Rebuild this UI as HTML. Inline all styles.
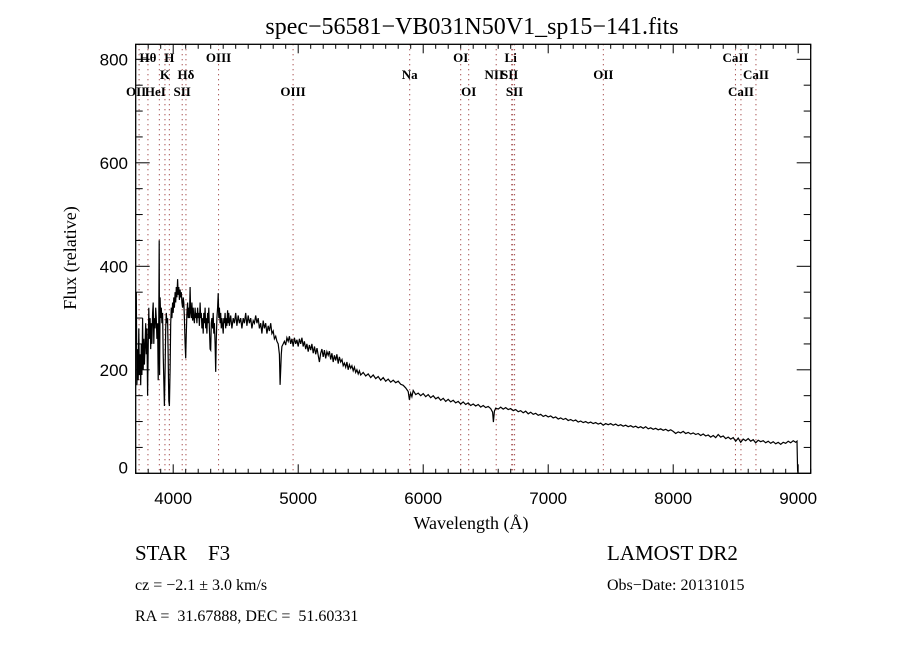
<!DOCTYPE html>
<html><head><meta charset="utf-8"><style>
html,body{margin:0;padding:0;background:#fff;}
svg{display:block;}
text{font-family:"Liberation Serif",serif;fill:#000;white-space:pre;}
</style></head>
<body>
<svg id="chart" width="900" height="650" viewBox="0 0 900 650" xmlns="http://www.w3.org/2000/svg">
<rect width="900" height="650" fill="#fff"/>
<text x="472" y="34" font-size="24" text-anchor="middle">spec−56581−VB031N50V1_sp15−141.fits</text>
<g id="lines"></g>
<g id="axes"></g>
<path id="spec" fill="none" stroke="#000" stroke-width="1.2"/>
<text x="471" y="529" font-size="18" text-anchor="middle">Wavelength (Å)</text>
<text transform="translate(76,258) rotate(-90)" font-size="18" text-anchor="middle">Flux (relative)</text>
<text x="135" y="560" font-size="21" xml:space="preserve">STAR    F3</text>
<text x="607" y="560" font-size="21">LAMOST DR2</text>
<text x="135" y="590" font-size="16">cz = −2.1 ± 3.0 km/s</text>
<text x="607" y="590" font-size="16">Obs−Date: 20131015</text>
<text x="135" y="621" font-size="16" xml:space="preserve">RA =  31.67888, DEC =  51.60331</text>
</svg>
<script>
const wave = [3705,3710,3715,3720,3725,3730,3735,3740,3745,3750,3755,3760,3765,3770,3775,3780,3785,3790,3795,3800,3805,3810,3815,3820,3825,3830,3835,3840,3845,3850,3855,3860,3865,3870,3875,3880,3885,3888,3891,3895,3900,3905,3910,3915,3920,3925,3930,3935,3940,3945,3950,3955,3960,3965,3970,3975,3980,3985,3990,3995,4000,4005,4010,4015,4020,4025,4030,4035,4040,4045,4050,4055,4060,4065,4070,4075,4080,4085,4090,4095,4100,4105,4110,4115,4120,4125,4130,4135,4140,4145,4150,4155,4160,4165,4170,4175,4180,4185,4190,4195,4200,4205,4210,4215,4220,4225,4230,4235,4240,4245,4250,4255,4260,4265,4270,4275,4280,4285,4290,4295,4300,4305,4310,4315,4320,4325,4330,4335,4340,4345,4350,4355,4360,4365,4370,4375,4380,4385,4390,4395,4400,4405,4410,4415,4420,4425,4430,4435,4440,4445,4450,4460,4470,4480,4490,4500,4510,4520,4530,4540,4550,4560,4570,4580,4590,4600,4610,4620,4630,4640,4650,4660,4670,4680,4690,4700,4710,4720,4730,4740,4750,4760,4770,4780,4790,4800,4810,4820,4830,4840,4850,4855,4860,4865,4870,4880,4890,4900,4910,4920,4930,4940,4950,4960,4970,4980,4990,5000,5010,5020,5030,5040,5050,5060,5070,5080,5090,5100,5110,5120,5130,5140,5150,5160,5170,5180,5190,5200,5210,5220,5230,5240,5250,5260,5270,5280,5290,5300,5310,5320,5330,5340,5350,5360,5370,5380,5390,5400,5410,5420,5430,5440,5450,5460,5470,5480,5490,5500,5520,5540,5560,5580,5600,5620,5640,5660,5680,5700,5720,5740,5760,5780,5800,5820,5840,5860,5880,5890,5900,5910,5920,5940,5960,5980,6000,6020,6040,6060,6080,6100,6120,6140,6160,6180,6200,6220,6240,6260,6280,6300,6320,6340,6360,6380,6400,6420,6440,6460,6480,6500,6520,6540,6555,6562,6570,6580,6600,6620,6640,6660,6680,6700,6720,6740,6760,6780,6800,6820,6840,6860,6880,6900,6920,6940,6960,6980,7000,7020,7040,7060,7080,7100,7120,7140,7160,7180,7200,7220,7240,7260,7280,7300,7320,7340,7360,7380,7400,7420,7440,7460,7480,7500,7520,7540,7560,7580,7600,7620,7640,7660,7680,7700,7720,7740,7760,7780,7800,7820,7840,7860,7880,7900,7920,7940,7960,7980,8000,8020,8040,8060,8080,8100,8120,8140,8160,8180,8200,8220,8240,8260,8280,8300,8320,8340,8360,8380,8400,8420,8440,8460,8480,8500,8520,8540,8560,8580,8600,8620,8640,8660,8680,8700,8720,8740,8760,8780,8800,8820,8840,8860,8880,8900,8920,8940,8960,8980,8990,8995];
const flux = [350,170,240,180,280,190,230,170,250,190,300,200,260,210,250,290,230,280,150,240,320,260,300,240,290,250,310,330,250,300,280,320,300,260,290,180,300,450,190,340,300,320,290,310,230,180,130,200,280,310,290,300,220,140,130,200,290,320,300,330,310,340,320,350,330,360,340,375,345,360,335,355,340,350,330,320,340,330,300,250,222,270,310,330,300,320,300,360,310,300,330,295,320,300,290,320,300,310,290,320,300,310,285,330,300,310,280,300,270,310,290,320,280,300,270,310,290,320,280,240,238,290,300,280,310,270,290,250,196,260,300,320,348,300,320,290,310,280,300,285,270,300,290,310,280,300,285,315,290,310,285,305,280,300,290,310,285,305,290,300,280,300,290,310,285,305,290,300,280,295,290,305,290,300,280,290,270,295,280,290,270,285,275,290,270,275,260,265,255,250,230,171,200,230,245,250,255,248,262,255,265,250,260,245,262,250,258,245,260,250,262,245,255,240,250,235,248,238,250,232,245,230,242,228,215,232,240,225,238,222,235,228,236,220,232,215,228,218,230,212,225,215,220,208,213,205,215,200,210,203,208,198,205,195,200,192,198,190,195,188,192,185,190,183,187,180,185,178,182,176,180,175,178,172,170,165,158,142,155,148,160,152,155,150,154,148,152,146,150,144,147,141,145,139,143,138,141,136,139,134,138,133,136,131,134,130,133,128,131,127,129,125,118,99,120,126,124,128,124,127,123,125,121,123,119,121,117,120,115,118,114,116,112,114,110,112,109,111,107,109,105,107,104,106,102,104,101,103,99,101,98,100,97,99,96,98,95,97,93,96,94,96,93,95,92,94,91,93,90,92,89,91,88,90,87,90,86,88,85,87,84,86,83,85,82,84,81,77,80,78,81,77,79,76,78,75,77,73,76,72,74,70,73,69,75,70,72,67,70,66,69,62,68,60,66,63,67,62,65,59,64,61,63,59,62,58,61,57,60,56,60,58,62,59,63,60,62,5];
const xTickLabels = [4000,5000,6000,7000,8000,9000];
const yTickLabels = [0,200,400,600,800];
const lineWaves = [3727,3798,3889,3934,3969,4072,4102,4363,4959,5892,6300,6364,6584,6708,6716,6731,7441,8498,8542,8662];
const lineNames = ["OII","Hθ","HeI","K","H","SII","Hδ","OIII","OIII","Na","OI","OI","NII","Li","SII","SII","OII","CaII","CaII","CaII"];
const lineRows = [2,0,2,1,0,2,1,0,2,1,0,2,1,0,1,2,1,0,2,1];
const labelShift = [-3,0,-4,0,0,0,0,0,0,0,0,0,-2,-1,-3,0,0,0,0,0];

const L=135.7,R=810.7,T=44.3,B=473.3,X0=3700,X1=9100,Y0=0,Y1=829;
const xs=w=>L+(w-X0)/(X1-X0)*(R-L);
const ys=f=>B-(f-Y0)/(Y1-Y0)*(B-T);
const NS="http://www.w3.org/2000/svg";
function mk(tag,attrs,parent){const e=document.createElementNS(NS,tag);for(const k in attrs)e.setAttribute(k,attrs[k]);parent.appendChild(e);return e;}
const ax=document.getElementById('axes'), lg=document.getElementById('lines');

lineWaves.forEach((w,i)=>{
  const x=xs(w);
  const ln=mk('line',{x1:x,x2:x,y1:T,y2:B,stroke:'#8b1a1a','stroke-width':1,'stroke-dasharray':'1,4'},lg);
  
  
  const t=mk('text',{x:x+labelShift[i],y:62+lineRows[i]*17,'font-size':13,'font-weight':'bold','text-anchor':'middle'},lg);
  t.textContent=lineNames[i];
  
  
});

const frame=mk('rect',{x:L,y:T,width:R-L,height:B-T,fill:'none',stroke:'#000','stroke-width':1.3},ax);


for(let w=3700;w<=9100;w+=100){
  const x=xs(w), maj=(w%1000===0), len=maj?9:4.5;
  mk('line',{x1:x,x2:x,y1:B,y2:B-len,stroke:'#000','stroke-width':1},ax);
  mk('line',{x1:x,x2:x,y1:T,y2:T+len,stroke:'#000','stroke-width':1},ax);
}
xTickLabels.forEach(v=>{
  const t=mk('text',{x:xs(v),y:504,'font-size':17,'text-anchor':'middle'},ax);
  t.style.fontFamily='"Liberation Sans",sans-serif';
  t.textContent=v;
  
  
});
for(let f=0;f<=800;f+=50){
  const y=ys(f), maj=(f%200===0), len=maj?14:7;
  mk('line',{x1:L,x2:L+len,y1:y,y2:y,stroke:'#000','stroke-width':1},ax);
  mk('line',{x1:R,x2:R-len,y1:y,y2:y,stroke:'#000','stroke-width':1},ax);
}
yTickLabels.forEach(v=>{
  const t=mk('text',{x:128,y:ys(v)+(v===0?0:6),'font-size':17,'text-anchor':'end'},ax);
  t.style.fontFamily='"Liberation Sans",sans-serif';
  t.textContent=v;
  
  
});

let d='';
wave.forEach((w,i)=>{d+=(i?'L':'M')+xs(w).toFixed(1)+','+ys(flux[i]).toFixed(1);});
d+='L'+xs(8998).toFixed(1)+','+ys(0).toFixed(1);
document.getElementById('spec').setAttribute('d',d);
</script>
</body></html>
